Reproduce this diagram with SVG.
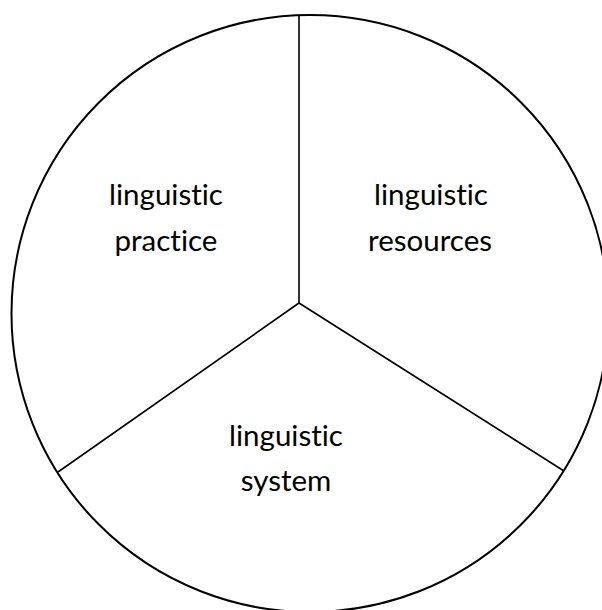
<svg xmlns="http://www.w3.org/2000/svg" width="602" height="610" viewBox="0 0 602 610">
  <style>
    .outline { fill: none; stroke: #000; stroke-width: 2; }
    .divider { fill: none; stroke: #000; stroke-width: 1.6; stroke-linecap: butt; }
    .label { font-family: Lato, "Open Sans", "Liberation Sans", sans-serif; font-size: 29.5px; fill: #000; text-anchor: middle; font-variant-ligatures: none; font-feature-settings: "liga" 0, "dlig" 0; }
  </style>
  <rect width="602" height="610" fill="#fff"/>
  <!-- outer circle -->
  <circle class="outline" cx="310" cy="313.5" r="298.5"/>
  <!-- three dividing spokes from the shared hub -->
  <g id="connectors">
    <line class="divider" x1="299" y1="15" x2="299" y2="303"/>
    <line class="divider" x1="299" y1="303" x2="58" y2="472"/>
    <line class="divider" x1="299" y1="303" x2="564" y2="471"/>
  </g>
  <g id="practice">
    <text class="label" x="166" y="205">linguistic</text>
    <text class="label" x="166" y="251">practice</text>
  </g>
  <g id="resources">
    <text class="label" x="431" y="205">linguistic</text>
    <text class="label" x="430" y="251">resources</text>
  </g>
  <g id="system">
    <text class="label" x="286" y="446">linguistic</text>
    <text class="label" x="286" y="491">system</text>
  </g>
</svg>
